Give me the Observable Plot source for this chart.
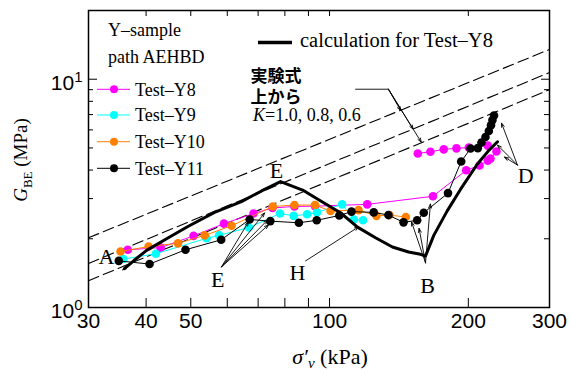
<!DOCTYPE html>
<html><head><meta charset="utf-8">
<script src="https://cdn.jsdelivr.net/npm/d3@7"></script>
<script src="https://cdn.jsdelivr.net/npm/@observablehq/plot@0.6"></script>
<style>html,body{margin:0;padding:0;background:#fff;} svg{display:block}</style>
</head><body><div id="chart"></div>
<script>
const serif = "'Liberation Serif','Times New Roman',serif";
const sans = "'Liberation Sans',Arial,sans-serif";

// ---- data (σ'v in kPa, G_BE in MPa) ----
const y8X = [36.5, 43.0, 50.7, 59.0, 68.4, 75.2, 83.9, 93.0, 120.7, 167.6, 197.9, 211.5, 220.4, 223.4, 230.2, 220.4, 200.5, 188.5, 176.9, 165.5, 155.4];
const y8G = [1.79, 1.83, 2.06, 2.33, 2.58, 2.73, 2.77, 2.78, 2.83, 3.07, 3.99, 4.19, 4.40, 4.49, 4.82, 5.12, 5.02, 4.98, 4.93, 4.81, 4.73];

const y9X = [35.7, 42.0, 54.1, 57.6, 66.8, 78.1, 83.6, 89.4, 93.9, 106.5, 112.9, 118.2];
const y9G = [1.63, 1.72, 2.01, 2.07, 2.24, 2.58, 2.52, 2.56, 2.61, 2.83, 2.43, 2.41];

const y10X = [35.2, 40.5, 46.9, 53.6, 61.3, 75.3, 83.9, 93.0, 100.5, 115.6, 126.4, 134.9, 146.4];
const y10G = [1.76, 1.85, 1.91, 2.07, 2.28, 2.77, 2.81, 2.81, 2.65, 2.67, 2.52, 2.54, 2.49];

const y11X = [34.9, 40.7, 48.7, 58.2, 67.1, 74.4, 85.8, 93.8, 105.0, 111.6, 124.7, 134.2, 144.7, 154.9, 160.1, 180.7, 193.0, 202.2, 209.7, 213.6, 217.9, 221.6, 224.0, 225.6, 227.4];
const y11G = [1.60, 1.55, 1.79, 1.98, 2.43, 2.39, 2.35, 2.41, 2.53, 2.63, 2.61, 2.54, 2.36, 2.41, 2.60, 3.17, 4.36, 4.97, 4.99, 5.28, 5.58, 5.93, 6.29, 6.62, 6.93];

const calcX = [35.9, 37.7, 40.1, 44.7, 49.4, 56.3, 64.4, 71.2, 78.3, 87.4, 96.5, 105.6, 115.0, 125.8, 136.9, 148.4, 157.5, 161.5, 168.3, 180.0, 192.3, 209.1, 221.6, 231.4];
const calcG = [1.48, 1.61, 1.78, 2.02, 2.27, 2.61, 2.91, 3.24, 3.56, 3.27, 2.90, 2.60, 2.25, 2.02, 1.84, 1.75, 1.71, 1.68, 2.07, 2.65, 3.29, 4.24, 4.88, 5.32];

// empirical lines (K = 1.0, 0.8, 0.6), end points read at σ'v = 30 and 300
const empX = [30, 300];
const empK10 = [2.02, 13.5];
const empK08 = [1.56, 10.7];
const empK06 = [1.31, 9.0];

// ticks
const xTicks = [30, 40, 50, 60, 70, 80, 90, 100, 200, 300];
const yMajor = [1, 10];
const yMinor = [2, 3, 4, 5, 6, 7, 8, 9, 20];

// annotations
const labelText = ["A", "E", "E", "H", "B", "D"];
const labelX = [32.8, 76.7, 57.2, 85.2, 163.1, 266.2];
const labelY = [1.666, 3.96, 1.322, 1.418, 1.244, 3.766];

const arrX1 = [37.2, 58.3, 58.3, 58.3, 58.3, 88.7, 161.5, 161.5, 161.5, 255.6, 255.6, 255.6, 134.2, 134.2, 134.2];
const arrY1 = [1.561, 1.507, 1.507, 1.507, 1.507, 1.60, 1.569, 1.569, 1.569, 4.207, 4.207, 4.207, 9.04, 9.04, 9.04];
const arrX2 = [35.6, 66.7, 72.3, 73.4, 73.7, 115.6, 150.6, 156.4, 165.5, 236.1, 231.4, 239.6, 142.6, 151.8, 158.1];
const arrY2 = [1.462, 2.37, 2.595, 2.418, 2.299, 2.254, 2.37, 2.22, 2.84, 6.42, 5.145, 4.56, 7.30, 6.045, 5.30];
const leaderX = [113.9, 134.2];
const leaderY = [9.04, 9.04];

const jpText = ["実験式", "上から"];
const jpX = [67.4, 67.4];
const jpY = [10.25, 8.28];
const kAnchor = [68.4, 6.98];

const series = [
  {name: "Test–Y8", color: "#ff00ff", xs: y8X, ys: y8G},
  {name: "Test–Y9", color: "#00ffff", xs: y9X, ys: y9G},
  {name: "Test–Y10", color: "#ff8000", xs: y10X, ys: y10G},
  {name: "Test–Y11", color: "#000000", xs: y11X, ys: y11G}
];

const rows = (xs, ys) => xs.map((x, i) => ({x, y: ys[i]}));
const arrows = arrX1.map((x1, i) => ({x1, y1: arrY1[i], x2: arrX2[i], y2: arrY2[i]}));
const labels = labelText.map((t, i) => ({t, x: labelX[i], y: labelY[i]}));
const jp = jpText.map((t, i) => ({t, x: jpX[i], y: jpY[i]}));

const dash = {stroke: "#000", strokeWidth: 1.1, strokeDasharray: "11,5"};

const marks = [
  Plot.line(rows(empX, empK10), {x: "x", y: "y", ...dash}),
  Plot.line(rows(empX, empK08), {x: "x", y: "y", ...dash}),
  Plot.line(rows(empX, empK06), {x: "x", y: "y", ...dash})
];
for (const s of series) {
  marks.push(Plot.line(rows(s.xs, s.ys), {x: "x", y: "y", stroke: s.color, strokeWidth: 1}));
  marks.push(Plot.dot(rows(s.xs, s.ys), {x: "x", y: "y", r: 4.3, fill: s.color, stroke: "none"}));
}
marks.push(
  Plot.line(rows(calcX, calcG), {x: "x", y: "y", stroke: "#000", strokeWidth: 3, strokeLinejoin: "round"}),
  Plot.line(rows(leaderX, leaderY), {x: "x", y: "y", stroke: "#000", strokeWidth: 0.9}),
  Plot.arrow(arrows, {x1: "x1", y1: "y1", x2: "x2", y2: "y2", stroke: "#000", strokeWidth: 0.9, headLength: 7, headAngle: 40}),
  Plot.text(labels, {x: "x", y: "y", text: "t", fontFamily: serif, fontSize: 22, fill: "#000"}),
  Plot.text(jp, {x: "x", y: "y", text: "t", textAnchor: "start", fontFamily: "'Noto Sans CJK JP',sans-serif", fontSize: 17, fontWeight: "bold", fill: "#000"}),
  // axes: ticks inward
  Plot.axisX(xTicks, {anchor: "bottom", tickSize: -9, tickFormat: () => "", label: null}),
  Plot.axisX(xTicks, {anchor: "bottom", tickSize: 0, tickPadding: 6, fontSize: 21, fontFamily: sans, tickFormat: d => String(d), label: null}),
  Plot.axisX(xTicks, {anchor: "top", tickSize: -5, tickFormat: () => "", label: null}),
  Plot.axisY(yMajor, {anchor: "left", tickSize: -9, tickFormat: () => "", label: null}),
  Plot.axisY(yMinor, {anchor: "left", tickSize: -5, tickFormat: () => "", label: null}),
  Plot.axisY(yMajor, {anchor: "left", tickSize: 0, tickPadding: 6, dy: 4, fontSize: 21, fontFamily: sans, tickFormat: d => "10^" + Math.round(Math.log10(d)), label: null}),
  Plot.axisY(yMajor, {anchor: "right", tickSize: -9, tickFormat: () => "", label: null}),
  Plot.axisY(yMinor, {anchor: "right", tickSize: -6, tickFormat: () => "", label: null}),
  Plot.frame({stroke: "#000", strokeWidth: 1.5})
);

const chart = Plot.plot({
  width: 572, height: 374,
  marginTop: 10, marginRight: 23, marginBottom: 67, marginLeft: 88,
  style: {fontFamily: sans, background: "#fff", color: "#000", overflow: "visible"},
  x: {type: "log", domain: [30, 300]},
  y: {type: "log", domain: [1, 20]},
  marks
});
document.getElementById("chart").appendChild(chart);

const svg = d3.select(chart);
// superscript exponents on y tick labels
svg.selectAll('[aria-label="y-axis tick label"] text').each(function() {
  const t = d3.select(this);
  const parts = t.text().split("^");
  if (parts.length === 2) {
    t.text(parts[0]);
    t.append("tspan").attr("dy", "-0.55em").attr("font-size", 15).text(parts[1]);
  }
});

const sxd = chart.scale("x"), syd = chart.scale("y");
const sx = sxd.apply ? (v => sxd.apply(v)) : d3.scaleLog().domain(sxd.domain).range(sxd.range);
const sy = syd.apply ? (v => syd.apply(v)) : d3.scaleLog().domain(syd.domain).range(syd.range);

// K= text (rich)
const kt = svg.append("text").attr("x", sx(kAnchor[0])).attr("y", sy(kAnchor[1])).attr("dy", "0.35em")
  .attr("text-anchor", "start").attr("font-family", serif).attr("font-size", 18).attr("fill", "#000");
kt.append("tspan").attr("font-style", "italic").text("K");
kt.append("tspan").text("=1.0, 0.8, 0.6");

// axis titles
const yl = svg.append("text").attr("transform", "translate(27,160) rotate(-90)").attr("text-anchor", "middle")
  .attr("font-family", serif).attr("font-size", 19).attr("fill", "#000");
yl.append("tspan").attr("font-style", "italic").text("G");
yl.append("tspan").attr("font-size", 13).attr("dy", 5).text("BE");
yl.append("tspan").attr("dy", -5).text(" (MPa)");

const xl = svg.append("text").attr("x", 330).attr("y", 356).attr("dy", "0.35em").attr("text-anchor", "middle")
  .attr("font-family", serif).attr("font-size", 22).attr("fill", "#000");
xl.append("tspan").attr("font-style", "italic").text("σ′");
xl.append("tspan").attr("font-style", "italic").attr("font-size", 15).attr("dy", 4).text("v");
xl.append("tspan").attr("dy", -4).text(" (kPa)");

// legend
const lg = svg.append("g").attr("font-family", serif).attr("font-size", 18).attr("fill", "#000").attr("text-anchor", "start");
lg.append("text").attr("x", 108).attr("y", 30).attr("dy", "0.35em").text("Y–sample");
lg.append("text").attr("x", 108).attr("y", 57).attr("dy", "0.35em").text("path AEHBD");
const legY = [89.3, 115, 141.7, 168.3];
series.forEach((s, i) => {
  lg.append("line").attr("x1", 97).attr("x2", 130).attr("y1", legY[i]).attr("y2", legY[i]).attr("stroke", s.color).attr("stroke-width", 1);
  lg.append("circle").attr("cx", 114).attr("cy", legY[i]).attr("r", 4).attr("fill", s.color);
  lg.append("text").attr("x", 135).attr("y", legY[i]).attr("dy", "0.35em").text(s.name);
});
lg.append("line").attr("x1", 258).attr("x2", 292).attr("y1", 42.5).attr("y2", 42.5).attr("stroke", "#000").attr("stroke-width", 3.5);
lg.append("text").attr("x", 300).attr("y", 40).attr("dy", "0.35em").attr("font-size", 20.5).text("calculation for Test–Y8");
</script>
</body></html>
